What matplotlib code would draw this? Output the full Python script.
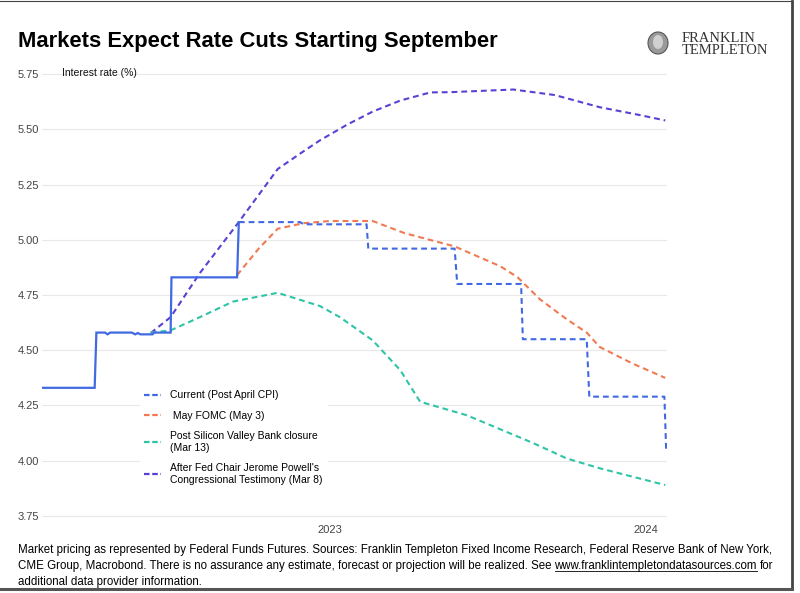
import numpy as np
import matplotlib
matplotlib.use("Agg")
import matplotlib.pyplot as plt
from matplotlib.lines import Line2D
from matplotlib.patches import Ellipse

plt.rcParams['font.family'] = ['Liberation Sans', 'DejaVu Sans']

# solid part of the current path (realised rate)
cur_solid_dates = ['2022-02-01', '2022-04-03', '2022-04-05', '2022-04-15', '2022-04-18', '2022-04-21',
                   '2022-05-16', '2022-05-20', '2022-05-23', '2022-05-26', '2022-06-09', '2022-06-11',
                   '2022-06-30', '2022-07-01', '2022-09-15', '2022-09-17']
cur_solid_vals = [4.33, 4.33, 4.58, 4.58, 4.572, 4.58,
                  4.58, 4.572, 4.578, 4.572, 4.572, 4.58,
                  4.58, 4.83, 4.83, 5.08]

# dashed part of the current path (Post April CPI)
cur_dates = ['2022-09-17', '2022-11-27', '2022-12-01', '2023-02-12', '2023-02-14', '2023-05-25',
             '2023-05-28', '2023-08-10', '2023-08-12', '2023-10-25', '2023-10-28', '2024-01-23',
             '2024-01-25']
cur_vals = [5.08, 5.08, 5.07, 5.07, 4.96, 4.96,
            4.80, 4.80, 4.55, 4.55, 4.29, 4.29,
            4.05]

fomc_dates = ['2022-09-15', '2022-10-10', '2022-11-01', '2022-12-01', '2023-01-01', '2023-02-19',
              '2023-03-28', '2023-05-25', '2023-07-17', '2023-08-06', '2023-09-01', '2023-10-02',
              '2023-10-25', '2023-11-09', '2023-12-17', '2024-01-24']
fomc_vals = [4.84, 4.96, 5.05, 5.075, 5.085, 5.085,
             5.03, 4.97, 4.88, 4.83, 4.73, 4.64,
             4.58, 4.515, 4.44, 4.375]

svb_dates = ['2022-06-07', '2022-06-30', '2022-08-03', '2022-09-10', '2022-11-01', '2022-12-20',
             '2023-01-12', '2023-02-19', '2023-03-23', '2023-04-15', '2023-06-08', '2023-08-24',
             '2023-10-02', '2023-11-09', '2024-01-24']
svb_vals = [4.58, 4.59, 4.65, 4.72, 4.76, 4.70,
            4.65, 4.545, 4.41, 4.267, 4.206, 4.08,
            4.01, 3.966, 3.89]

powell_dates = ['2022-06-07', '2022-06-30', '2022-08-03', '2022-09-15', '2022-11-01', '2022-11-27',
                '2022-12-20', '2023-01-20', '2023-02-19', '2023-03-23', '2023-04-27', '2023-05-20',
                '2023-08-01', '2023-09-18', '2023-11-09', '2023-12-26', '2024-01-24']
powell_vals = [4.578, 4.65, 4.85, 5.07, 5.32, 5.39,
               5.45, 5.52, 5.58, 5.63, 5.667, 5.668,
               5.68, 5.655, 5.60, 5.564, 5.54]

labels = ['Current (Post April CPI)', ' May FOMC (May 3)',
          'Post Silicon Valley Bank closure\n(Mar 13)',
          "After Fed Chair Jerome Powell's\nCongressional Testimony (Mar 8)"]
yticks = [3.75, 4.00, 4.25, 4.50, 4.75, 5.00, 5.25, 5.50, 5.75]
xtick_dates = ['2023-01-01', '2024-01-01']
xtick_labels = ['2023', '2024']

BLUE = '#4169e1'
ORANGE = '#f07a52'
TEAL = '#2fc4a8'
PURPLE = '#5b40d6'

def d(lst):
    return np.array(lst, dtype='datetime64[D]')

fig = plt.figure(figsize=(8, 5.93), dpi=100)
ax = fig.add_axes([0.0525, 0.1187, 0.78125, 0.7676])

dash = (0, (2.8, 1.9))
ax.plot(d(powell_dates), powell_vals, color=PURPLE, lw=1.5, ls=dash)
ax.plot(d(svb_dates), svb_vals, color=TEAL, lw=1.5, ls=dash)
ax.plot(d(fomc_dates), fomc_vals, color=ORANGE, lw=1.5, ls=dash)
ax.plot(d(cur_dates), cur_vals, color=BLUE, lw=1.5, ls=dash)
ax.plot(d(cur_solid_dates), cur_solid_vals, color=BLUE, lw=1.6, solid_joinstyle='miter')

ax.set_xlim(np.datetime64('2022-02-01'), np.datetime64('2024-01-26'))
ax.set_ylim(3.72, 5.78)
ax.set_yticks(yticks)
ax.set_yticklabels(['%.2f' % v for v in yticks])
ax.set_xticks(d(xtick_dates))
ax.set_xticklabels(xtick_labels)
ax.tick_params(length=0, labelsize=8, labelcolor='#444444', pad=2)
ax.grid(axis='y', color='#e8e8e8', lw=0.8)
ax.set_axisbelow(True)
for s in ax.spines.values():
    s.set_visible(False)

handles = [Line2D([], [], color=c, lw=1.6, ls=(0, (2.5, 1.2))) for c in (BLUE, ORANGE, TEAL, PURPLE)]
leg = ax.legend(handles, labels, loc='upper left', bbox_to_anchor=(135 / 800, 1 - 381 / 593),
                bbox_transform=fig.transFigure, frameon=True, fontsize=7.5, handlelength=1.6,
                handletextpad=0.9, labelspacing=1.0, borderpad=0.4)
leg.get_frame().set_facecolor('white')
leg.get_frame().set_edgecolor('white')
leg.get_frame().set_alpha(1)

fig.text(62 / 800, 1 - 73 / 593, 'Interest rate (%)', fontsize=7.5, color='#111111', va='center')

fig.text(18 / 800, 1 - 42 / 593, 'Markets Expect Rate Cuts Starting September',
         fontsize=15.8, fontweight='bold', color='black', va='center')

# logo
fig.patches.append(Ellipse((658 / 800, 1 - 43 / 593), 20 / 800, 22 / 593, transform=fig.transFigure,
                           facecolor='#9a9a9a', edgecolor='#555555', lw=0.8))
fig.patches.append(Ellipse((658 / 800, 1 - 42 / 593), 10 / 800, 14 / 593, transform=fig.transFigure,
                           facecolor='#d0d0d0', edgecolor='none'))
fig.text(682 / 800, 1 - 39 / 593, 'FRANKLIN', family=['Liberation Serif', 'DejaVu Serif'],
         fontsize=10.5, color='#333333', va='center')
fig.text(682 / 800, 1 - 51 / 593, 'TEMPLETON', family=['Liberation Serif', 'DejaVu Serif'],
         fontsize=10.5, color='#333333', va='center')

# footnote
fs = 8.3
fig.text(18 / 800, 1 - 550 / 593, 'Market pricing as represented by Federal Funds Futures. Sources: Franklin '
         'Templeton Fixed Income Research, Federal Reserve Bank of New York,', fontsize=fs, va='center')
fig.text(18 / 800, 1 - 582 / 593, 'additional data provider information.', fontsize=fs, va='center')
t1 = fig.text(18 / 800, 1 - 566 / 593, 'CME Group, Macrobond. There is no assurance any estimate, forecast '
              'or projection will be realized. See', fontsize=fs, va='center')
fig.canvas.draw()
r = fig.canvas.get_renderer()
b1 = t1.get_window_extent(r)
t2 = fig.text((b1.x1 + 3) / 800, 1 - 566 / 593, 'www.franklintempletondatasources.com', fontsize=fs, va='center')
b2 = t2.get_window_extent(r)
fig.lines.append(Line2D([b2.x0 / 800, b2.x1 / 800], [(b2.y0 + 1) / 593, (b2.y0 + 1) / 593],
                        transform=fig.transFigure, color='black', lw=0.6))
fig.text((b2.x1 + 3) / 800, 1 - 566 / 593, 'for', fontsize=fs, va='center')

# frame
fig.lines.append(Line2D([0, 792 / 800], [1 - 1 / 593, 1 - 1 / 593], transform=fig.transFigure, color='#444444', lw=0.8))
fig.lines.append(Line2D([792 / 800, 792 / 800], [1 - 1 / 593, 1 - 589 / 593], transform=fig.transFigure, color='#444444', lw=2))
fig.lines.append(Line2D([0, 792 / 800], [1 - 589 / 593, 1 - 589 / 593], transform=fig.transFigure, color='#555555', lw=2.2))

fig.savefig('out.png', dpi=100)
